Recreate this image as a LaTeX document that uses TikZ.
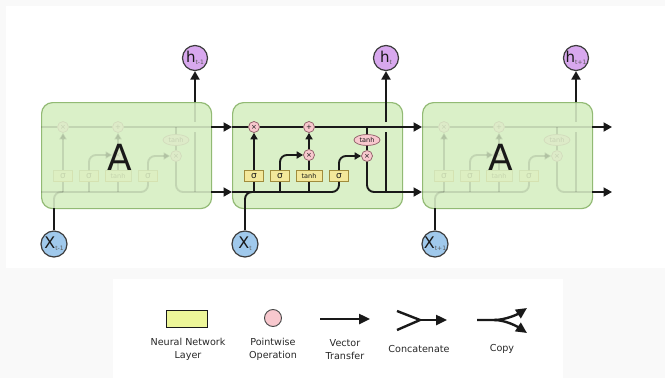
\documentclass[tikz,border=0pt]{standalone}
\usepackage{fontspec}
\setmainfont{DejaVu Sans}
\usetikzlibrary{arrows.meta,shapes.geometric}

\definecolor{pagegray}{RGB}{249,249,249}
\definecolor{cellfill}{RGB}{218,240,200}
\definecolor{celldraw}{RGB}{146,186,116}
\definecolor{opfill}{RGB}{248,200,206}
\definecolor{opdraw}{RGB}{140,90,100}
\definecolor{layerfill}{RGB}{243,232,155}
\definecolor{layerdraw}{RGB}{160,140,60}
\definecolor{keyfill}{RGB}{237,246,153}
\definecolor{hfill}{RGB}{216,168,238}
\definecolor{xfill}{RGB}{160,201,236}
\definecolor{ink}{RGB}{25,25,25}
\definecolor{subink}{RGB}{90,90,90}
\definecolor{legendink}{RGB}{40,40,40}

% circle labels: big letter with a small grey index
\newcommand\hlabel[1]{{\fontsize{15}{15}\selectfont h}\raisebox{-2pt}{\fontsize{6}{6}\selectfont\color{subink}#1}}
\newcommand\xlabel[1]{{\fontsize{16}{16}\selectfont X}\raisebox{-2pt}{\fontsize{6}{6}\selectfont\color{subink}#1}}

\tikzset{
  flow/.style={line width=1.9pt, draw=ink, line join=round},
  bigtip/.style={-{Triangle[length=8.5pt,width=9pt]}},
  smalltip/.style={-{Triangle[length=6.5pt,width=7pt]}},
  keyflow/.style={line width=2.4pt, draw=ink, line join=round},
  keytip/.style={-{Triangle[length=11pt,width=10pt]}},
  op/.style={circle, draw=opdraw, fill=opfill, line width=0.7pt, minimum size=11pt,
    inner sep=0pt, text=ink, font=\fontsize{7}{7}\selectfont},
  squash/.style={ellipse, draw=opdraw, fill=opfill, line width=0.7pt, minimum width=26pt,
    minimum height=11pt, inner sep=0pt, text=ink, font=\fontsize{6.5}{6.5}\selectfont},
  layer/.style={rectangle, draw=layerdraw, fill=layerfill, line width=0.7pt, minimum height=11pt,
    minimum width=19pt, inner sep=0pt, text=ink, font=\fontsize{9}{9}\selectfont},
  cellbox/.style={rectangle, rounded corners=11pt, draw=celldraw, fill=cellfill, line width=1.2pt,
    minimum width=170pt, minimum height=106pt, anchor=north west, inner sep=0pt},
  faded/.style={opacity=0.12},
  bigA/.style={text=ink, font=\fontsize{36}{36}\selectfont, inner sep=0pt},
  hnode/.style={circle, draw=ink!85, fill=hfill, line width=1.2pt, minimum size=25pt, inner sep=0pt, text=ink},
  xnode/.style={circle, draw=ink!85, fill=xfill, line width=1.2pt, minimum size=26pt, inner sep=0pt, text=ink},
  keylayer/.style={rectangle, draw=ink, fill=keyfill, line width=0.9pt, minimum width=41pt,
    minimum height=17pt, inner sep=0pt},
  keyop/.style={circle, draw=ink!80, fill=opfill, line width=0.9pt, minimum size=17pt, inner sep=0pt},
  keytext/.style={align=center, text=legendink, font=\fontsize{9.6}{13}\selectfont, inner sep=0pt},
  % the inside of one LSTM cell, origin at the cell's top-left corner
  guts/.pic={
    \coordinate (-ci) at (0,25);
    \coordinate (-co) at (170,25);
    \coordinate (-tap) at (135,25);
    \coordinate (-hi) at (0,90);
    \coordinate (-ho) at (170,90);
    \coordinate (-xin) at (13,106);
    \coordinate (-xb) at (13,90);
    \coordinate (-t1) at (22,90);
    \coordinate (-t2) at (48,90);
    \coordinate (-t3) at (77,90);
    \coordinate (-b3) at (107,90);
    \coordinate (-b2) at (48,53);
    \coordinate (-b4) at (107,54);
    \coordinate (-ob) at (135,90);
    \coordinate (-hb) at (154,90);
    \coordinate (-hg1) at (154,30);
    \coordinate (-hg2) at (154,20);
    \coordinate (-hup) at (154,0);
    \node[op] (-fx) at (22,25) {×};
    \node[op] (-add) at (77,25) {+};
    \node[op] (-ix) at (77,53) {×};
    \node[op] (-ox) at (135,54) {×};
    \node[squash] (-th) at (135,38) {tanh};
    \node[layer] (-s1) at (22,74) {σ};
    \node[layer] (-s2) at (48,74) {σ};
    \node[layer, minimum width=26pt, font=\fontsize{6.5}{6.5}\selectfont] (-tb) at (77,74) {tanh};
    \node[layer] (-s3) at (107,74) {σ};
    % cell state
    \draw[flow] (-ci) -- (-fx) -- (-add) -- (-co);
    \draw[flow] (-tap) -- (-th);
    \draw[flow] (-th) -- (-ox);
    % hidden state and input
    \draw[flow, rounded corners=7pt] (-hi) -- (-b3) -- (-s3);
    \draw[flow, rounded corners=7pt] (-xin) -- (-xb) -- (-t1);
    \draw[flow] (-t1) -- (-s1);
    \draw[flow] (-t2) -- (-s2);
    \draw[flow] (-t3) -- (-tb);
    % gates
    \draw[flow, smalltip] (-s1) -- (-fx);
    \draw[flow, smalltip, rounded corners=7pt] (-s2) -- (-b2) -- (-ix);
    \draw[flow] (-tb) -- (-ix);
    \draw[flow, smalltip] (-ix) -- (-add);
    \draw[flow, smalltip, rounded corners=7pt] (-s3) -- (-b4) -- (-ox);
    % output
    \draw[flow, rounded corners=7pt] (-ox) -- (-ob) -- (-ho);
    \draw[flow] (-hb) -- (-hg1);
    \draw[flow] (-hg2) -- (-hup);
  }
}

\begin{document}
\begin{tikzpicture}[x=1pt,y=-1pt]
\useasboundingbox (0,0) rectangle (665,378);
\fill[pagegray] (0,0) rectangle (665,378);
\fill[white] (6,6) rectangle (665,268);
\fill[white] (113,279) rectangle (563,378);

% the three unrolled cells
\node[cellbox] (cL) at (41,102) {};
\node[cellbox] (cM) at (232,102) {};
\node[cellbox] (cR) at (422,102) {};
\pic[faded] (L) at (41,102) {guts};
\pic (M) at (232,102) {guts};
\pic[faded] (R) at (422,102) {guts};
\node[bigA] (aL) at (120,157) {A};
\node[bigA] (aR) at (501,157) {A};

% state passed from cell to cell
\coordinate (outC) at (612,127);
\coordinate (outH) at (612,192);
\draw[flow, bigtip] (L-co) -- (M-ci);
\draw[flow, bigtip] (L-ho) -- (M-hi);
\draw[flow, bigtip] (M-co) -- (R-ci);
\draw[flow, bigtip] (M-ho) -- (R-hi);
\draw[flow, bigtip] (R-co) -- (outC);
\draw[flow, bigtip] (R-ho) -- (outH);

% outputs
\node[hnode] (hL) at (195,58) {\hlabel{t-1}};
\node[hnode] (hM) at (386,58) {\hlabel{t}};
\node[hnode] (hR) at (576,58) {\hlabel{t+1}};
\draw[flow, bigtip] (L-hup) -- (hL);
\draw[flow, bigtip] (M-hup) -- (hM);
\draw[flow, bigtip] (R-hup) -- (hR);

% inputs
\node[xnode] (xL) at (54,244) {\xlabel{t-1}};
\node[xnode] (xM) at (245,244) {\xlabel{t}};
\node[xnode] (xR) at (435,244) {\xlabel{t+1}};
\draw[flow] (xL) -- (L-xin);
\draw[flow] (xM) -- (M-xin);
\draw[flow] (xR) -- (R-xin);

% legend
\node[keylayer] (kLayer) at (186.5,318.5) {};
\node[keyop] (kOp) at (273,318) {};
\coordinate (vA) at (320,319);
\coordinate (vB) at (370,319);
\draw[keyflow, keytip] (vA) -- (vB);
\coordinate (cU) at (397,311);
\coordinate (cD) at (397,330);
\coordinate (cJ) at (420,320);
\coordinate (cE) at (447,320);
\draw[keyflow] (cU) -- (cJ) -- (cD);
\draw[keyflow, keytip] (cJ) -- (cE);
\coordinate (pA) at (477,320);
\coordinate (pS) at (494,320);
\coordinate (pU) at (527,308);
\coordinate (pD) at (527,333);
\draw[keyflow, keytip] (pA) -- (pS) .. controls (506,320) and (518,314) .. (pU);
\draw[keyflow, keytip] (pS) .. controls (506,320) and (518,327) .. (pD);

\node[keytext] (tLayer) at (188,349.5) {Neural Network\\Layer};
\node[keytext] (tOp) at (273,349.5) {Pointwise\\Operation};
\node[keytext] (tVec) at (345,349.5) {Vector\\Transfer};
\node[keytext] (tCat) at (419,349) {Concatenate};
\node[keytext] (tCopy) at (502,349) {Copy};
\end{tikzpicture}
\end{document}
